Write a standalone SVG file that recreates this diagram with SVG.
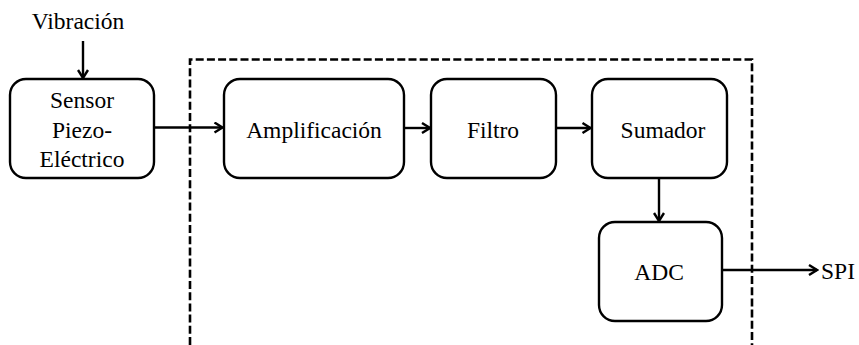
<svg xmlns="http://www.w3.org/2000/svg" width="859" height="345" viewBox="0 0 859 345">
  <style>
    .box { fill: #fff; stroke: #000; stroke-width: 2.4; }
    .lbl { font-family: 'Liberation Serif', serif; font-size: 23.5px; fill: #000; text-anchor: middle; }
    .wire { fill: none; stroke: #000; stroke-width: 2.4; marker-end: url(#arrow); }
    .frame { fill: none; stroke: #000; stroke-width: 2.6; stroke-dasharray: 8 3.2; }
  </style>
  <defs>
    <marker id="arrow" markerWidth="12" markerHeight="12" viewBox="-10 -6 12 12" refX="0" refY="0" orient="auto" markerUnits="userSpaceOnUse">
      <path d="M-8,-5 L0,0 L-8,5" fill="none" stroke="#000" stroke-width="2.4" stroke-linejoin="miter"/>
    </marker>
  </defs>
  <rect width="859" height="345" fill="#fff"/>

  <!-- dashed enclosure of the signal chain (open at the bottom) -->
  <path class="frame" d="M190,345 V59.5 H752 V345"/>

  <g id="connectors">
    <line class="wire" x1="83" y1="41" x2="83" y2="78"/>
    <line class="wire" x1="154" y1="127.5" x2="222.5" y2="127.5"/>
    <line class="wire" x1="404" y1="128" x2="430" y2="128"/>
    <line class="wire" x1="556" y1="128" x2="590.5" y2="128"/>
    <line class="wire" x1="659" y1="178" x2="659" y2="221"/>
    <line class="wire" x1="722" y1="270" x2="817" y2="270"/>
  </g>

  <text id="vibracion" class="lbl" x="78" y="29" font-family="Liberation Serif">Vibración</text>
  <text id="spi" class="lbl" x="838" y="279">SPI</text>

  <g id="sensor">
    <rect class="box" x="10" y="79" width="144" height="99" rx="16"/>
    <text class="lbl" x="82" y="108">Sensor</text>
    <text class="lbl" x="82" y="137.5">Piezo-</text>
    <text class="lbl" x="82" y="167">Eléctrico</text>
  </g>

  <g id="amplificacion">
    <rect class="box" x="224" y="79" width="180" height="99" rx="16"/>
    <text class="lbl" x="314" y="137.5">Amplificación</text>
  </g>

  <g id="filtro">
    <rect class="box" x="431" y="79" width="125" height="99" rx="16"/>
    <text class="lbl" x="493" y="137.5">Filtro</text>
  </g>

  <g id="sumador">
    <rect class="box" x="592" y="79" width="135" height="99" rx="16"/>
    <text class="lbl" x="663" y="137.5">Sumador</text>
  </g>

  <g id="adc">
    <rect class="box" x="599" y="222" width="123" height="99" rx="16"/>
    <text class="lbl" x="659" y="280">ADC</text>
  </g>
</svg>
